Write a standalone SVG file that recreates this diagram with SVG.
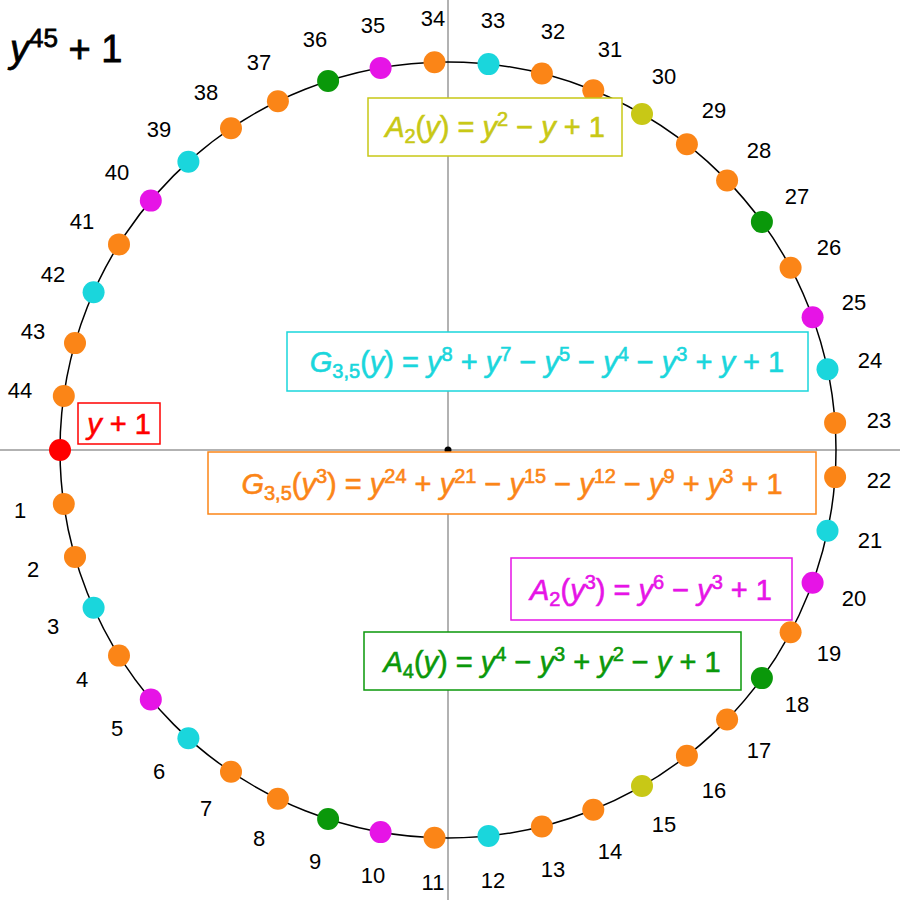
<svg xmlns="http://www.w3.org/2000/svg" width="900" height="900" viewBox="0 0 900 900">
<style>
.ax{stroke:#999;stroke-width:1.5}
.n{font-family:"Liberation Sans",Arial,sans-serif;font-size:22px;fill:#000;text-anchor:middle;dominant-baseline:central}
.f{font-family:"Liberation Sans",Arial,sans-serif;font-size:29px;stroke-width:0.6}
.i{font-style:italic}
.s{font-size:20px}
.o{fill:#fb8517;stroke:#fb8517}.c{fill:#1ad6dc;stroke:#1ad6dc}.m{fill:#e614e6;stroke:#e614e6}.g{fill:#0a980a;stroke:#0a980a}.y{fill:#c8c816;stroke:#c8c816}.r{fill:#ff0000;stroke:#ff0000}
circle.o,circle.c,circle.m,circle.g,circle.y,circle.r{stroke:none}
.box{fill:#fff;stroke-width:1.5}
</style>
<rect width="900" height="900" fill="#fff"/>
<g id="axes">
<line class="ax" x1="448" y1="0" x2="448" y2="900"/>
<line class="ax" x1="0" y1="450" x2="900" y2="450"/>
<circle cx="448" cy="450" r="388" fill="none" stroke="#000" stroke-width="1.5"/>
<circle cx="448" cy="450" r="3.5" fill="#000"/>
</g>
<text x="10" y="62" font-family="Liberation Sans,Arial,sans-serif" font-size="38" stroke="#000" stroke-width="0.8"><tspan font-style="italic">y</tspan><tspan font-size="26" dy="-15">45</tspan><tspan dy="15"> + 1</tspan></text>
<g id="connectors"></g>
<g id="dots">
<circle class="r" cx="60" cy="450" r="11"/>
<circle class="o" cx="63.8" cy="504" r="11"/>
<circle class="o" cx="75" cy="556.9" r="11"/>
<circle class="c" cx="93.6" cy="607.8" r="11"/>
<circle class="o" cx="119" cy="655.6" r="11"/>
<circle class="m" cx="150.8" cy="699.4" r="11"/>
<circle class="c" cx="188.4" cy="738.3" r="11"/>
<circle class="o" cx="231" cy="771.7" r="11"/>
<circle class="o" cx="277.9" cy="798.7" r="11"/>
<circle class="g" cx="328.1" cy="819" r="11"/>
<circle class="m" cx="380.6" cy="832.1" r="11"/>
<circle class="o" cx="434.5" cy="837.8" r="11"/>
<circle class="c" cx="488.5" cy="835.9" r="11"/>
<circle class="o" cx="541.9" cy="826.5" r="11"/>
<circle class="o" cx="593.3" cy="809.8" r="11"/>
<circle class="y" cx="642" cy="786" r="11"/>
<circle class="o" cx="686.9" cy="755.7" r="11"/>
<circle class="o" cx="727.1" cy="719.5" r="11"/>
<circle class="g" cx="761.9" cy="678.1" r="11"/>
<circle class="o" cx="790.6" cy="632.2" r="11"/>
<circle class="m" cx="812.6" cy="582.7" r="11"/>
<circle class="c" cx="827.5" cy="530.7" r="11"/>
<circle class="o" cx="835.1" cy="477.1" r="11"/>
<circle class="o" cx="835.1" cy="422.9" r="11"/>
<circle class="c" cx="827.5" cy="369.3" r="11"/>
<circle class="m" cx="812.6" cy="317.3" r="11"/>
<circle class="o" cx="790.6" cy="267.8" r="11"/>
<circle class="g" cx="761.9" cy="221.9" r="11"/>
<circle class="o" cx="727.1" cy="180.5" r="11"/>
<circle class="o" cx="686.9" cy="144.3" r="11"/>
<circle class="y" cx="642" cy="114" r="11"/>
<circle class="o" cx="593.3" cy="90.2" r="11"/>
<circle class="o" cx="541.9" cy="73.5" r="11"/>
<circle class="c" cx="488.5" cy="64.1" r="11"/>
<circle class="o" cx="434.5" cy="62.2" r="11"/>
<circle class="m" cx="380.6" cy="67.9" r="11"/>
<circle class="g" cx="328.1" cy="81" r="11"/>
<circle class="o" cx="277.9" cy="101.3" r="11"/>
<circle class="o" cx="231" cy="128.3" r="11"/>
<circle class="c" cx="188.4" cy="161.7" r="11"/>
<circle class="m" cx="150.8" cy="200.6" r="11"/>
<circle class="o" cx="119" cy="244.4" r="11"/>
<circle class="c" cx="93.6" cy="292.2" r="11"/>
<circle class="o" cx="75" cy="343.1" r="11"/>
<circle class="o" cx="63.8" cy="396" r="11"/>
</g>
<g id="labels">
<text class="n" x="20" y="510">1</text><text class="n" x="33" y="569">2</text><text class="n" x="53" y="626">3</text><text class="n" x="82" y="679">4</text><text class="n" x="117" y="728">5</text><text class="n" x="159" y="771">6</text><text class="n" x="206" y="808">7</text><text class="n" x="259" y="838">8</text><text class="n" x="315" y="861">9</text><text class="n" x="373" y="875">10</text><text class="n" x="433" y="882">11</text><text class="n" x="493" y="880">12</text><text class="n" x="553" y="869">13</text><text class="n" x="610" y="851">14</text><text class="n" x="664" y="824">15</text><text class="n" x="714" y="790">16</text><text class="n" x="759" y="750">17</text><text class="n" x="797" y="704">18</text><text class="n" x="829" y="653">19</text><text class="n" x="854" y="598">20</text><text class="n" x="870" y="540">21</text><text class="n" x="879" y="480">22</text><text class="n" x="879" y="420">23</text><text class="n" x="870" y="360">24</text><text class="n" x="854" y="302">25</text><text class="n" x="829" y="247">26</text><text class="n" x="797" y="196">27</text><text class="n" x="759" y="150">28</text><text class="n" x="714" y="110">29</text><text class="n" x="664" y="76">30</text><text class="n" x="610" y="49">31</text><text class="n" x="553" y="31">32</text><text class="n" x="493" y="20">33</text><text class="n" x="433" y="18">34</text><text class="n" x="373" y="25">35</text><text class="n" x="315" y="39">36</text><text class="n" x="259" y="62">37</text><text class="n" x="206" y="92">38</text><text class="n" x="159" y="129">39</text><text class="n" x="117" y="172">40</text><text class="n" x="82" y="221">41</text><text class="n" x="53" y="274">42</text><text class="n" x="33" y="331">43</text><text class="n" x="20" y="390">44</text>
</g>
<g id="boxA2">
<rect class="box" x="368" y="98" width="254" height="58" stroke="#c8c816"/>
<text class="f y" x="495" y="137" text-anchor="middle"><tspan class="i">A</tspan><tspan class="s" dy="6">2</tspan><tspan dy="-6">(</tspan><tspan class="i">y</tspan>) = <tspan class="i">y</tspan><tspan class="s" dy="-11">2</tspan><tspan dy="11"> − </tspan><tspan class="i">y</tspan> + 1</text>
</g>
<g id="boxG35">
<rect class="box" x="287" y="332" width="521" height="59" stroke="#1ad6dc"/>
<text class="f c" x="547" y="372" text-anchor="middle"><tspan class="i">G</tspan><tspan class="s" dy="6">3,5</tspan><tspan dy="-6">(</tspan><tspan class="i">y</tspan>) = <tspan class="i">y</tspan><tspan class="s" dy="-11">8</tspan><tspan dy="11"> + </tspan><tspan class="i">y</tspan><tspan class="s" dy="-11">7</tspan><tspan dy="11"> − </tspan><tspan class="i">y</tspan><tspan class="s" dy="-11">5</tspan><tspan dy="11"> − </tspan><tspan class="i">y</tspan><tspan class="s" dy="-11">4</tspan><tspan dy="11"> − </tspan><tspan class="i">y</tspan><tspan class="s" dy="-11">3</tspan><tspan dy="11"> + </tspan><tspan class="i">y</tspan> + 1</text>
</g>
<g id="boxY1">
<rect class="box" x="78" y="403" width="82" height="41" stroke="#ff0000"/>
<text class="f r" x="119" y="434" text-anchor="middle"><tspan class="i">y</tspan> + 1</text>
</g>
<g id="boxG35y3">
<rect class="box" x="208" y="452" width="608" height="62" stroke="#fb8517"/>
<text class="f o" x="512" y="494" text-anchor="middle"><tspan class="i">G</tspan><tspan class="s" dy="6">3,5</tspan><tspan dy="-6">(</tspan><tspan class="i">y</tspan><tspan class="s" dy="-11">3</tspan><tspan dy="11">) = </tspan><tspan class="i">y</tspan><tspan class="s" dy="-11">24</tspan><tspan dy="11"> + </tspan><tspan class="i">y</tspan><tspan class="s" dy="-11">21</tspan><tspan dy="11"> − </tspan><tspan class="i">y</tspan><tspan class="s" dy="-11">15</tspan><tspan dy="11"> − </tspan><tspan class="i">y</tspan><tspan class="s" dy="-11">12</tspan><tspan dy="11"> − </tspan><tspan class="i">y</tspan><tspan class="s" dy="-11">9</tspan><tspan dy="11"> + </tspan><tspan class="i">y</tspan><tspan class="s" dy="-11">3</tspan><tspan dy="11"> + 1</tspan></text>
</g>
<g id="boxA2y3">
<rect class="box" x="511" y="558" width="281" height="62" stroke="#e614e6"/>
<text class="f m" x="651" y="600" text-anchor="middle"><tspan class="i">A</tspan><tspan class="s" dy="6">2</tspan><tspan dy="-6">(</tspan><tspan class="i">y</tspan><tspan class="s" dy="-11">3</tspan><tspan dy="11">) = </tspan><tspan class="i">y</tspan><tspan class="s" dy="-11">6</tspan><tspan dy="11"> − </tspan><tspan class="i">y</tspan><tspan class="s" dy="-11">3</tspan><tspan dy="11"> + 1</tspan></text>
</g>
<g id="boxA4">
<rect class="box" x="364" y="632" width="377" height="58" stroke="#0a980a"/>
<text class="f g" x="552" y="672" text-anchor="middle"><tspan class="i">A</tspan><tspan class="s" dy="6">4</tspan><tspan dy="-6">(</tspan><tspan class="i">y</tspan>) = <tspan class="i">y</tspan><tspan class="s" dy="-11">4</tspan><tspan dy="11"> − </tspan><tspan class="i">y</tspan><tspan class="s" dy="-11">3</tspan><tspan dy="11"> + </tspan><tspan class="i">y</tspan><tspan class="s" dy="-11">2</tspan><tspan dy="11"> − </tspan><tspan class="i">y</tspan> + 1</text>
</g>
</svg>
